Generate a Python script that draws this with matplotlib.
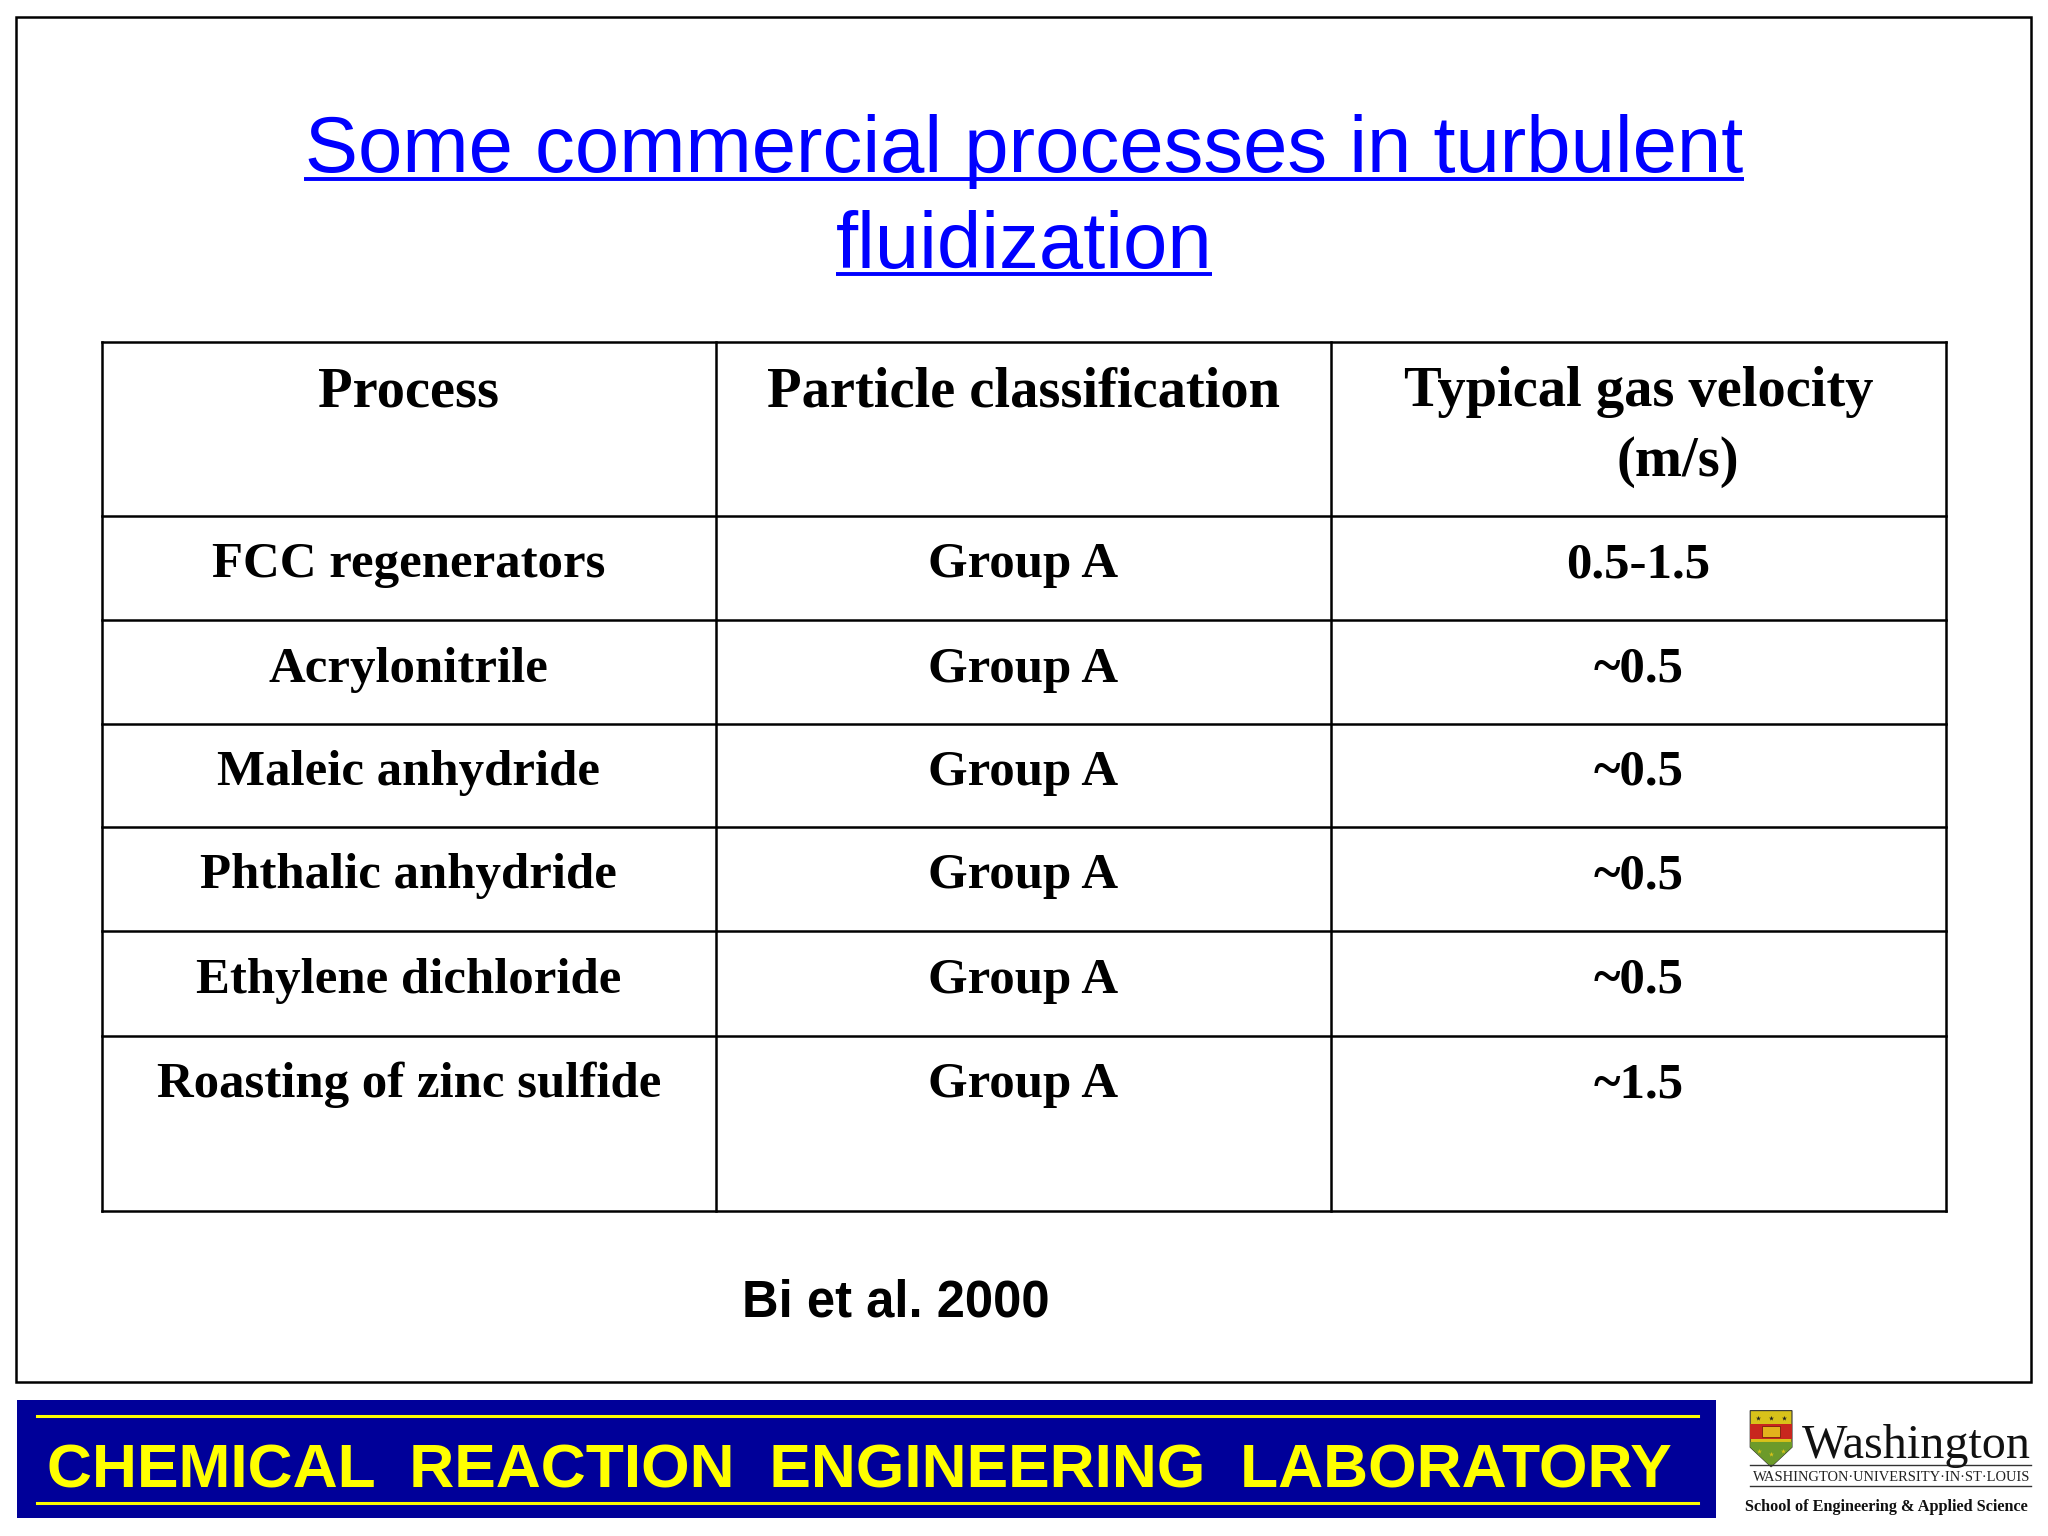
import matplotlib
matplotlib.use("Agg")
import matplotlib.pyplot as plt
from matplotlib.patches import Rectangle, Polygon

# table content
headers = ["Process", "Particle classification", "Typical gas velocity"]
header_unit = "(m/s)"
processes = ["FCC regenerators", "Acrylonitrile", "Maleic anhydride",
             "Phthalic anhydride", "Ethylene dichloride", "Roasting of zinc sulfide"]
classification = ["Group A", "Group A", "Group A", "Group A", "Group A", "Group A"]
velocity = ["0.5-1.5", "~0.5", "~0.5", "~0.5", "~0.5", "~1.5"]

title_lines = ["Some commercial processes in turbulent", "fluidization"]
source = "Bi et al. 2000"
banner = "CHEMICAL  REACTION  ENGINEERING  LABORATORY"

# slide is laid out in a 1568 x 1176 grid (y downwards)
W, H = 1568, 1176
fig = plt.figure(figsize=(20.48, 15.36), dpi=100)
ax = fig.add_axes([0, 0, 1, 1])
ax.set_xlim(0, W)
ax.set_ylim(H, 0)
ax.axis("off")
renderer = fig.canvas.get_renderer()
px = fig.dpi * fig.get_figwidth() / W   # figure pixels per grid unit


def fit_text(x, y, s, width, **kw):
    # draw text then scale its font so it spans the wanted width
    t = ax.text(x, y, s, **kw)
    w = t.get_window_extent(renderer).width
    t.set_fontsize(t.get_fontsize() * width * px / w)
    return t


serif = ["Liberation Serif", "DejaVu Serif"]
sans = ["Liberation Sans", "DejaVu Sans"]

# outer frame of the slide
ax.add_patch(Rectangle((12, 13), 1543, 1045, fill=False, lw=1.8, ec="black"))

# title, blue and underlined
blue = "#0000ff"
t1 = fit_text(784, 132, title_lines[0], 1102, ha="center", va="baseline",
              family=sans, fontsize=60, color=blue)
ax.plot([233, 1335], [137, 137], color=blue, lw=2.8, solid_capstyle="butt")
fs_title = t1.get_fontsize()
ax.text(784, 205, title_lines[1], ha="center", va="baseline", family=sans,
        fontsize=fs_title, color=blue)
ax.plot([640, 928], [210, 210], color=blue, lw=2.8, solid_capstyle="butt")

# table grid
col_x = [78, 548, 1019, 1490]
row_y = [262, 395, 475, 554, 633, 713, 793, 927]
for x in col_x:
    ax.plot([x, x], [row_y[0], row_y[-1]], color="black", lw=1.8)
for y in row_y:
    ax.plot([col_x[0], col_x[-1]], [y, y], color="black", lw=1.8)

centers = [(col_x[i] + col_x[i + 1]) / 2 for i in range(3)]
cell_kw = dict(ha="center", va="baseline", family=serif, weight="bold")
ref = fit_text(centers[0], row_y[6] + 47, processes[5], 387, fontsize=36, **cell_kw)
fs_cell = ref.get_fontsize()
cell_kw["fontsize"] = fs_cell

# header row uses a slightly larger font
head_kw = dict(cell_kw)
hd = fit_text(centers[1], row_y[0] + 49, headers[1], 392, **head_kw)
head_kw["fontsize"] = hd.get_fontsize()
ax.text(centers[0], row_y[0] + 49, headers[0], **head_kw)
ax.text(centers[2], row_y[0] + 49, headers[2], **head_kw)
ax.text(centers[2] + 30, row_y[0] + 102, header_unit, **head_kw)

for r in range(len(processes)):
    base = row_y[r + 1] + 47
    if r < len(processes) - 1:
        ax.text(centers[0], base, processes[r], **cell_kw)
    ax.text(centers[1], base, classification[r], **cell_kw)
    ax.text(centers[2], base, velocity[r], **cell_kw)

# source note
fit_text(686, 1008, source, 235, ha="center", va="baseline", family=sans,
         weight="bold", fontsize=38, color="black")

# bottom banner
ax.add_patch(Rectangle((13, 1072), 1301, 90, color="#000099", lw=0))
yellow = "#ffff00"
ax.plot([28, 1300], [1084, 1084], color=yellow, lw=2.2)
ax.plot([28, 1300], [1151, 1151], color=yellow, lw=2.2)
fit_text(658, 1139, banner, 1245, ha="center", va="baseline", family=sans,
         weight="bold", fontsize=47, color=yellow)

# university logo
ax.add_patch(Polygon([[1340, 1080], [1372, 1080], [1372, 1108], [1356, 1123],
                      [1340, 1108]], closed=True, fc="#d8c21a", ec="#333333", lw=0.8))
ax.add_patch(Rectangle((1340, 1090), 32, 12, fc="#c8261e", lw=0))
ax.add_patch(Rectangle((1349, 1092), 14, 8, fc="#e3b21c", ec="#7a1a10", lw=0.6))
ax.add_patch(Polygon([[1340, 1104], [1372, 1104], [1372, 1108], [1356, 1123],
                      [1340, 1108]], closed=True, fc="#6c9a2a", lw=0))
ax.scatter([1346, 1356, 1366], [1086, 1086, 1086], marker="*", s=14, c="#222222", lw=0)
ax.scatter([1347, 1356, 1365], [1111, 1113, 1111], marker="*", s=14, c="#d8c21a", lw=0)

fit_text(1467, 1116, "Washington", 175, ha="center", va="baseline",
         family=serif, fontstretch="condensed", fontsize=30, color="#111111")
ax.plot([1340, 1555], [1122, 1122], color="#333333", lw=1.0)
fit_text(1448, 1134, "WASHINGTON\u00b7UNIVERSITY\u00b7IN\u00b7ST\u00b7LOUIS", 213,
         ha="center", va="baseline", family=serif, fontsize=9, color="#222222")
ax.plot([1340, 1555], [1138, 1138], color="#333333", lw=1.0)
fit_text(1444, 1157, "School of Engineering & Applied Science", 218,
         ha="center", va="baseline", family=serif, weight="bold",
         fontsize=10, color="#111111")

fig.savefig("out.png", dpi=100, facecolor="white")
